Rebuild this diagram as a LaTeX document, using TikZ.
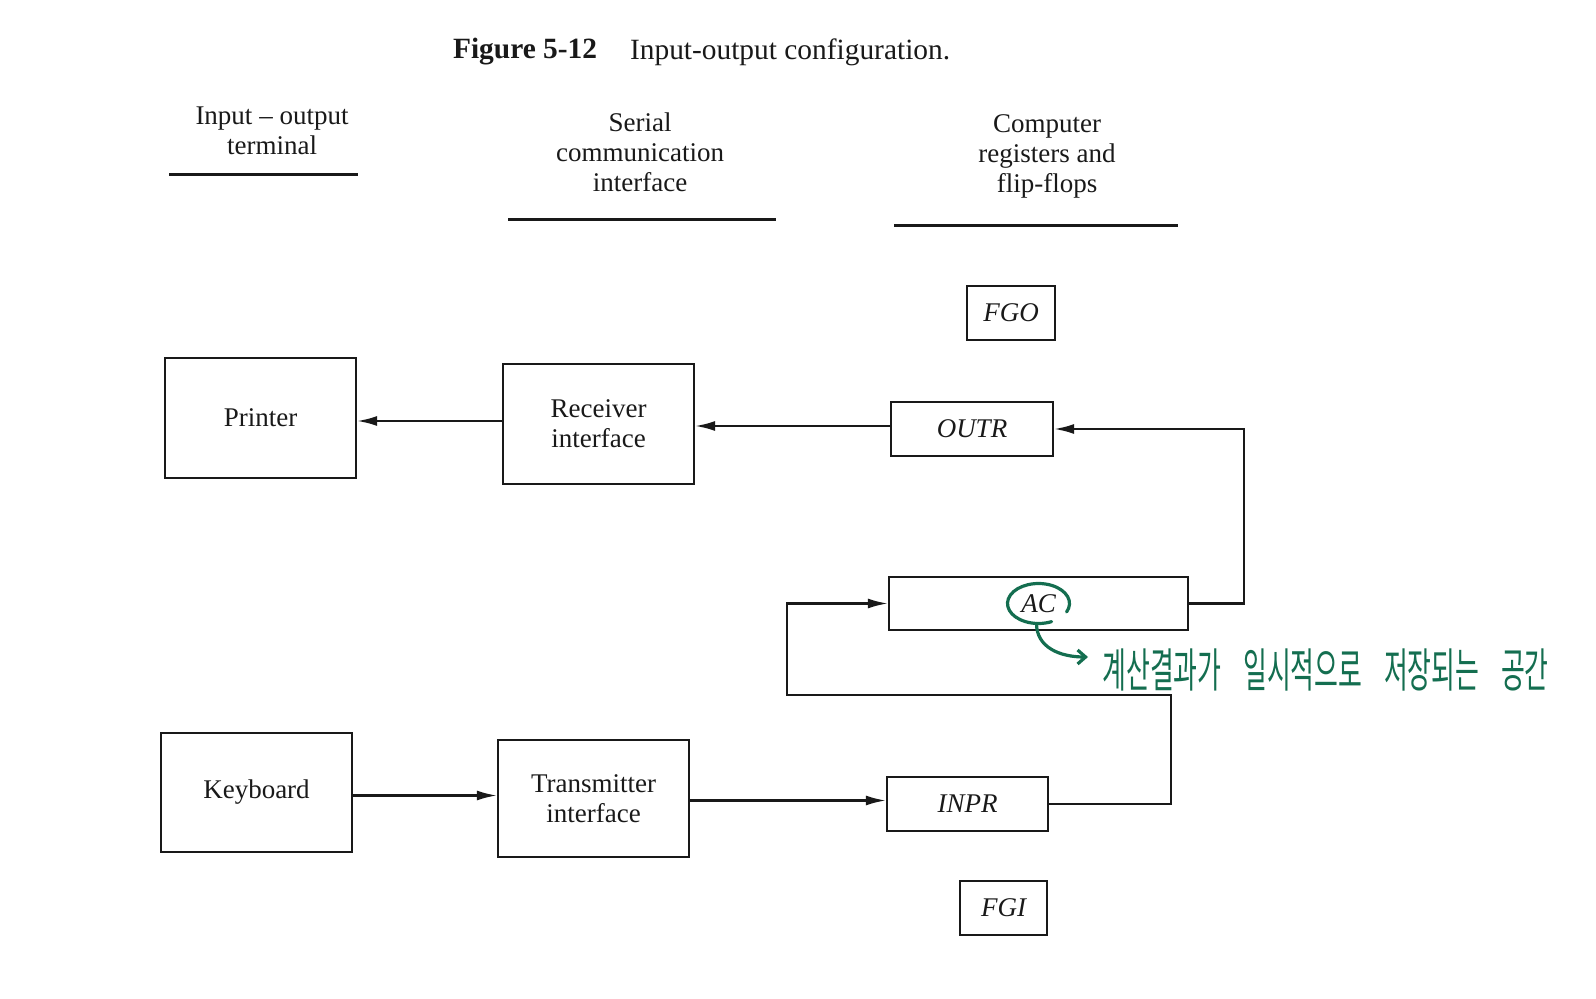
\documentclass[tikz,border=0pt]{standalone}
\usepackage{fontspec}
\setmainfont{Liberation Serif}
\newfontfamily\cjk{Noto Sans CJK KR}
\usetikzlibrary{arrows.meta}
\definecolor{ink}{RGB}{25,25,25}
\definecolor{pen}{RGB}{20,110,80}
\begin{document}
\begin{tikzpicture}[x=0.5pt,y=-0.5pt,
  box/.style={draw=ink, line width=1.1pt, inner sep=0pt, align=center, text=ink,
              font=\fontsize{13.5}{15}\selectfont},
  reg/.style={box, font=\fontsize{13.5}{15}\selectfont\itshape},
  arr/.style={draw=ink, line width=1.1pt, -{Latex[length=10pt,width=5pt]}},
  head/.style={font=\fontsize{13.5}{15}\selectfont, align=center, text=ink},
  rulebar/.style={draw=ink, line width=1.5pt},
  hand/.style={draw=pen, line width=1.6pt, line cap=round}]
\useasboundingbox (0,0) rectangle (1596,999);

% title
\node[anchor=west, text=ink, font=\fontsize{14.7}{16}\selectfont\bfseries] (fig) at (446,52) {Figure 5-12};
\node[anchor=west, text=ink, font=\fontsize{14.7}{16}\selectfont] (cap) at (623,52) {Input-output configuration.};

% column headers
\node[head] (h1) at (272,130.5) {Input -- output\\terminal};
\node[head] (h2) at (640,152) {Serial\\communication\\interface};
\node[head] (h3) at (1047,156) {Computer\\registers and\\flip-flops};
\draw[rulebar] (169,175) -- (358,175);
\draw[rulebar] (508,220) -- (776,220);
\draw[rulebar] (894,226) -- (1178,226);

% boxes
\node[box, minimum width=95.5pt, minimum height=60pt] (prn) at (260.5,418) {Printer};
\node[box, minimum width=95.5pt, minimum height=60pt] (rec) at (598.5,424) {Receiver\\interface};
\node[box, minimum width=95.5pt, minimum height=59.5pt] (kbd) at (256.5,792.5) {Keyboard};
\node[box, minimum width=95.5pt, minimum height=58.5pt] (tx) at (593.5,798.5) {Transmitter\\interface};

\node[reg, minimum width=44pt, minimum height=27pt] (fgo) at (1011,313) {FGO};
\node[reg, minimum width=81pt, minimum height=27pt] (outr) at (972,429) {OUTR};
\node[reg, minimum width=149.5pt, minimum height=26.5pt] (ac) at (1038.5,603.5) {AC};
\node[reg, minimum width=80.5pt, minimum height=27pt] (inpr) at (967.5,804) {INPR};
\node[reg, minimum width=43.5pt, minimum height=27pt] (fgi) at (1003.5,908) {FGI};

% connectors
\draw[arr] ([yshift=1.5pt]rec.west) -- ([yshift=1.5pt]rec.west -| prn.east);
\draw[arr] ([yshift=1.5pt]outr.west) -- ([yshift=1.5pt]outr.west -| rec.east);
\draw[arr] (ac.east) -- ++(55,0) |- (outr.east);
\coordinate (lp) at (787,695);
\draw[arr] (inpr.east) -- ++(122,0) |- (lp) |- (ac.west);
\draw[arr] ([yshift=-1.5pt]kbd.east) -- ([yshift=-1.5pt]kbd.east -| tx.west);
\draw[arr] ([yshift=-1pt]tx.east) -- ([yshift=-1pt]tx.east -| inpr.west);

% handwritten annotation
\draw[hand] ([shift={(-25:15.5pt and 10pt)}]ac.center) arc[start angle=-25, end angle=295, x radius=15.5pt, y radius=10pt];
\coordinate (hk) at (1088,657);
\draw[hand, -{Straight Barb[length=4pt,width=7pt]}] ([xshift=-1pt,yshift=-10pt]ac.center) .. controls +(0pt,-12pt) and +(-14pt,0pt) .. (hk);
\node[anchor=west, text=pen, inner sep=0pt, font=\cjk\fontsize{12}{13}\selectfont] (note) at (1102,670)
  {\scalebox{1.08}[1.95]{계산결과가\hspace{10pt}일시적으로\hspace{10pt}저장되는\hspace{10pt}공간}};
\end{tikzpicture}
\end{document}
